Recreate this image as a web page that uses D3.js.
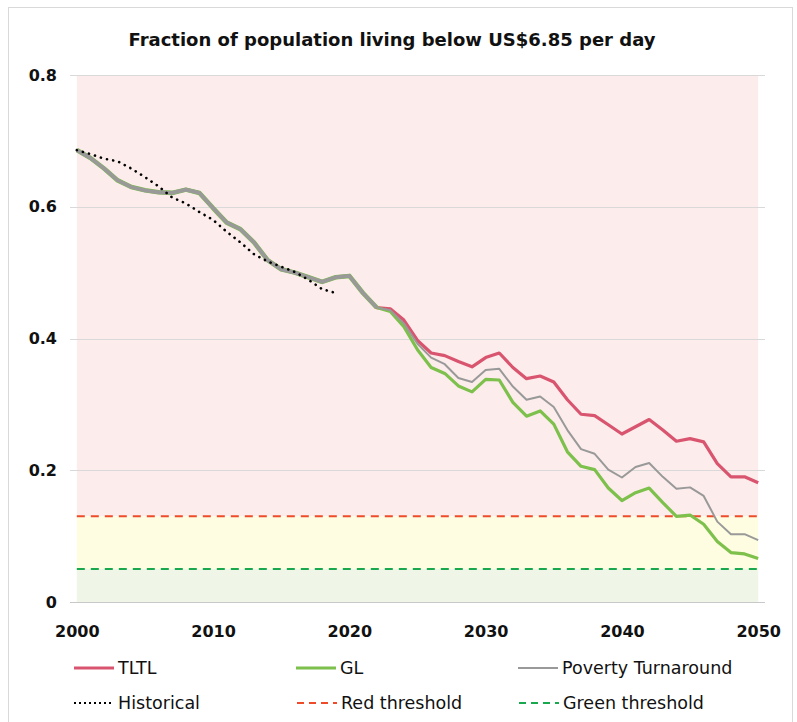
<!DOCTYPE html>
<html>
<head>
<meta charset="utf-8">
<script src="https://cdn.jsdelivr.net/npm/d3@7"></script>
<style>
  html, body { margin: 0; padding: 0; background: #ffffff; }
  svg text { font-family: "DejaVu Sans", "Noto Sans", sans-serif; fill: #111; }
</style>
</head>
<body>
<svg id="chart" width="797" height="722"></svg>
<script>
// Years on the category axis
const years = d3.range(2000, 2051);

// Shared path up to 2022, then the three scenarios diverge
const tltl = [0.686,0.674,0.658,0.640,0.630,0.625,0.622,0.621,0.626,0.621,
              0.598,0.576,0.566,0.546,0.519,0.505,0.500,0.493,0.486,0.493,
              0.495,0.469,0.447,0.445,0.428,0.397,0.378,0.374,0.365,0.357,
              0.371,0.378,0.356,0.339,0.343,0.334,0.307,0.285,0.283,0.269,
              0.255,0.266,0.277,0.261,0.244,0.248,0.243,0.210,0.190,0.190,0.181];
const gl   = [0.686,0.674,0.658,0.640,0.630,0.625,0.622,0.621,0.626,0.621,
              0.598,0.576,0.566,0.546,0.519,0.505,0.500,0.493,0.486,0.493,
              0.495,0.469,0.447,0.441,0.418,0.383,0.356,0.347,0.328,0.319,
              0.338,0.337,0.303,0.282,0.290,0.270,0.228,0.206,0.201,0.173,
              0.154,0.166,0.173,0.151,0.130,0.132,0.118,0.092,0.075,0.073,0.066];
const poverty = [0.686,0.674,0.658,0.640,0.630,0.625,0.622,0.621,0.626,0.621,
              0.598,0.576,0.566,0.546,0.519,0.505,0.500,0.493,0.486,0.493,
              0.495,0.469,0.447,0.443,0.423,0.392,0.371,0.361,0.340,0.334,
              0.352,0.354,0.327,0.307,0.312,0.296,0.261,0.232,0.225,0.201,
              0.189,0.205,0.211,0.190,0.172,0.174,0.161,0.122,0.103,0.103,0.094];
// Observed values 2000-2019
const histYears = d3.range(2000, 2020);
const historical = [0.686,0.680,0.673,0.669,0.658,0.645,0.631,0.614,0.605,0.592,
                    0.580,0.562,0.546,0.528,0.517,0.509,0.501,0.489,0.475,0.469];

const redThreshold = 0.13;
const greenThreshold = 0.05;
const yMax = 0.8;

const yTicks = [0, 0.2, 0.4, 0.6, 0.8];
const yTickLabels = ["0", "0.2", "0.4", "0.6", "0.8"];
const xTicks = [2000, 2010, 2020, 2030, 2040, 2050];

const svg = d3.select("#chart");

// outer frame
svg.append("rect")
  .attr("x", 8.5).attr("y", 7.5).attr("width", 784).attr("height", 730)
  .attr("fill", "#fff").attr("stroke", "#d9d9d9");

// plot area: categories sit in the middle of equal slots
const plotLeft = 70, plotRight = 765, plotTop = 75, plotBottom = 602;
const slot = (plotRight - plotLeft) / years.length;
const x = d3.scaleLinear()
  .domain([2000, 2050])
  .range([plotLeft + slot / 2, plotRight - slot / 2]);
const y = d3.scaleLinear().domain([0, yMax]).range([plotBottom, plotTop]);

// background bands
const bands = [
  { lo: redThreshold, hi: yMax, color: "#fcedec" },
  { lo: greenThreshold, hi: redThreshold, color: "#fefde1" },
  { lo: 0, hi: greenThreshold, color: "#eff5e7" }
];
svg.append("g").selectAll("rect").data(bands).join("rect")
  .attr("x", x(2000)).attr("width", x(2050) - x(2000))
  .attr("y", d => y(d.hi)).attr("height", d => y(d.lo) - y(d.hi))
  .attr("fill", d => d.color);

// horizontal gridlines
svg.append("g").selectAll("line").data(yTicks).join("line")
  .attr("x1", plotLeft).attr("x2", plotRight)
  .attr("y1", d => Math.round(y(d)) + 0.5).attr("y2", d => Math.round(y(d)) + 0.5)
  .attr("stroke", d => d === 0 ? "#c8c8c8" : "#d9d9d9").attr("stroke-width", 1.2);

// axis labels
const yAxis = d3.axisLeft(y).tickValues(yTicks)
  .tickFormat((d, i) => yTickLabels[i]).tickSize(0).tickPadding(13);
const gy = svg.append("g").attr("transform", `translate(${plotLeft},0)`).call(yAxis);
gy.select(".domain").remove();
gy.selectAll("text").attr("font-size", 16).attr("font-weight", "bold")
  .attr("font-family", "'DejaVu Sans', sans-serif").attr("fill", "#111");

const xAxis = d3.axisBottom(x).tickValues(xTicks).tickFormat(d3.format("d"))
  .tickSize(0).tickPadding(23.5);
const gx = svg.append("g").attr("transform", `translate(0,${plotBottom})`).call(xAxis);
gx.select(".domain").remove();
gx.selectAll("text").attr("font-size", 16).attr("font-weight", "bold")
  .attr("font-family", "'DejaVu Sans', sans-serif").attr("fill", "#111");

// threshold lines
const thresholds = [
  { v: redThreshold, color: "#ee4b2b" },
  { v: greenThreshold, color: "#1aa84f" }
];
svg.append("g").selectAll("line").data(thresholds).join("line")
  .attr("x1", x(2000)).attr("x2", x(2050))
  .attr("y1", d => y(d.v)).attr("y2", d => y(d.v))
  .attr("stroke", d => d.color).attr("stroke-width", 2)
  .attr("stroke-dasharray", "8,6");

const line = d3.line().x(d => x(d[0])).y(d => y(d[1]));
const pairs = vals => years.map((yr, i) => [yr, vals[i]]);
const shared = d => d[0] <= 2022;

svg.append("path").datum(pairs(tltl)).attr("d", line)
  .attr("fill", "none").attr("stroke", "#d9546e").attr("stroke-width", 3.2)
  .attr("stroke-linejoin", "round");
const gp = pairs(gl);
svg.append("path").datum(gp.filter(shared)).attr("d", line)
  .attr("fill", "none").attr("stroke", "#7dc04c").attr("stroke-width", 4.6)
  .attr("stroke-linejoin", "round");
svg.append("path").datum(gp.filter(d => d[0] >= 2022)).attr("d", line)
  .attr("fill", "none").attr("stroke", "#7dc04c").attr("stroke-width", 3.2)
  .attr("stroke-linejoin", "round");
// shared stretch of the turnaround path is drawn heavier
const pv = pairs(poverty);
svg.append("path").datum(pv.filter(shared)).attr("d", line)
  .attr("fill", "none").attr("stroke", "#999999").attr("stroke-width", 3.8)
  .attr("stroke-linejoin", "round");
svg.append("path").datum(pv.filter(d => d[0] >= 2022)).attr("d", line)
  .attr("fill", "none").attr("stroke", "#999999").attr("stroke-width", 2)
  .attr("stroke-linejoin", "round");

svg.append("path").datum(histYears.map((yr, i) => [yr, historical[i]])).attr("d", line)
  .attr("fill", "none").attr("stroke", "#000").attr("stroke-width", 2.6)
  .attr("stroke-dasharray", "0.1,6.2").attr("stroke-linecap", "round");

// title
svg.append("text").attr("x", 392).attr("y", 46).attr("text-anchor", "middle")
  .attr("font-size", 18).attr("font-weight", "bold")
  .text("Fraction of population living below US$6.85 per day");

// legend
const legend = [
  { label: "TLTL", color: "#d9546e", w: 3.2, dash: null, lx: 74, ty: 668 },
  { label: "GL", color: "#7dc04c", w: 3.2, dash: null, lx: 296, ty: 668 },
  { label: "Poverty Turnaround", color: "#999999", w: 2, dash: null, lx: 518, ty: 668 },
  { label: "Historical", color: "#000", w: 2, dash: "2,3", lx: 74, ty: 703 },
  { label: "Red threshold", color: "#ee4b2b", w: 2, dash: "7,5", lx: 297, ty: 703 },
  { label: "Green threshold", color: "#1aa84f", w: 2, dash: "7,5", lx: 519, ty: 703 }
];
const lg = svg.append("g").selectAll("g").data(legend).join("g");
lg.append("line")
  .attr("x1", d => d.lx).attr("x2", d => d.lx + 40)
  .attr("y1", d => d.ty).attr("y2", d => d.ty)
  .attr("stroke", d => d.color).attr("stroke-width", d => d.w)
  .attr("stroke-dasharray", d => d.dash);
lg.append("text")
  .attr("x", d => d.lx + 44).attr("y", d => d.ty + 6)
  .attr("font-size", 17.5).text(d => d.label);
</script>
</body>
</html>
